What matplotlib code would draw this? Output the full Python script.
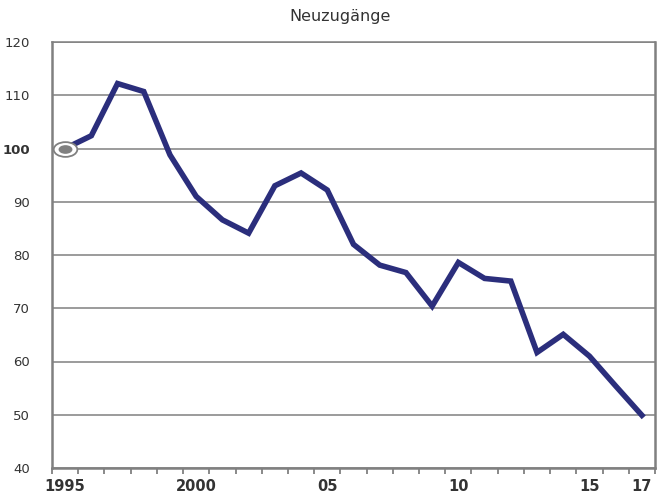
import matplotlib
matplotlib.use("Agg")
import matplotlib.pyplot as plt
import numpy as np
from matplotlib.path import Path
from matplotlib.transforms import Affine2D

years = list(range(1995, 2018))
values = [100.0, 102.4, 112.2, 110.7, 98.8, 91.0, 86.6, 84.1, 93.0, 95.4, 92.2,
          82.0, 78.1, 76.7, 70.4, 78.6, 75.6, 75.1, 61.7, 65.1, 61.0, 55.4, 49.9]
xlabels = {1995: "1995", 2000: "2000", 2005: "05", 2010: "10", 2015: "15", 2017: "17"}
yticks = [40, 50, 60, 70, 80, 90, 100, 110, 120]

navy = "#2b2e7c"
grey = "#808080"
txt = "#333333"

plt.rcParams['font.family'] = ['DejaVu Sans']

fig = plt.figure(figsize=(6.57, 4.93), dpi=100)
ax = fig.add_axes([52 / 657, 1 - 468 / 493, 603 / 657, 426 / 493])

x = np.arange(len(years))
ax.plot(x, values, color=navy, lw=4.0, solid_joinstyle='miter', zorder=3)

# ellipse marker on first point
ell = Path.unit_circle().transformed(Affine2D().scale(1.6, 1.0))
ax.plot(x[0], values[0], marker=ell, ms=17, mfc='white', mec=grey, mew=1.3,
        ls='none', zorder=4)
ax.plot(x[0], values[0], marker=ell, ms=10, mfc=grey, mec=grey, mew=0,
        ls='none', zorder=5)

ax.set_xlim(-0.5, len(years) - 0.5)
ax.set_ylim(40, 120)

ax.set_yticks(yticks)
ax.set_yticklabels([str(v) for v in yticks])
for lab in ax.get_yticklabels():
    lab.set_color(txt)
    lab.set_fontsize(9.5)
    if lab.get_text() == "100":
        lab.set_fontweight('bold')
ax.tick_params(axis='y', length=0, pad=16)
ax.grid(axis='y', color=grey, lw=1.1, zorder=1)

# category boundaries as ticks, labels at centres
ax.set_xticks(np.arange(-0.5, len(years), 1.0))
ax.set_xticklabels([])
ax.tick_params(axis='x', which='major', length=4.5, width=1.3, color=grey, direction='out')
lab_pos = [years.index(y) for y in xlabels]
ax.set_xticks(lab_pos, minor=True)
ax.set_xticklabels(list(xlabels.values()), minor=True, fontsize=10.5,
                   fontweight='bold', color=txt)
ax.tick_params(axis='x', which='minor', length=0, pad=8)

for side in ['left', 'bottom', 'right']:
    ax.spines[side].set_color(grey)
    ax.spines[side].set_linewidth(1.8)
ax.spines['top'].set_color(grey)
ax.spines['top'].set_linewidth(1.1)

fig.text(0.517, 0.967, "Neuzugänge", ha='center', va='center', fontsize=11.5, color=txt)

fig.savefig("out.png", dpi=100)
